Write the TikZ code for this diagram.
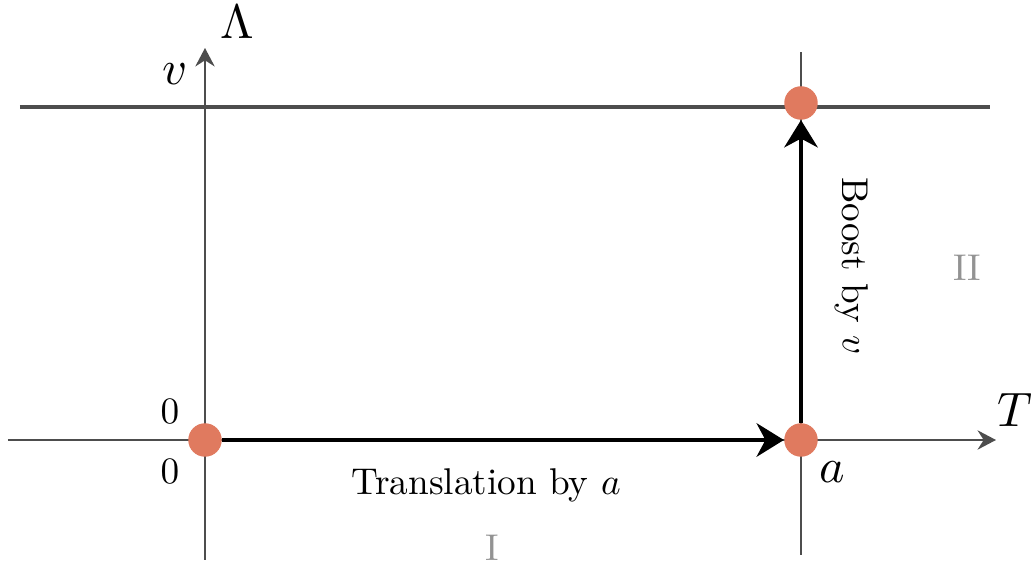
\documentclass[tikz,border=0pt]{standalone}
\usepackage{amsmath, amssymb}
\usepackage{xcolor}
\usepackage{tikz}
\usetikzlibrary{arrows.meta}

\definecolor{dotred}{HTML}{E07A5F}
\definecolor{axisgray}{HTML}{4D4D4D}

\begin{document}
\begin{tikzpicture}[x=0.02cm, y=0.02cm,
    axis/.style={draw=axisgray, line width=1.2pt, -{Stealth[length=10.5pt, width=11pt, inset=3.5pt]}},
    gridline/.style={draw=axisgray, line width=1.8pt},
    move/.style={draw=black, line width=2.8pt, -{Stealth[length=15.5pt, width=19pt, inset=5pt]}},
    point/.style={circle, fill=dotred, inner sep=0pt, minimum size=0.67cm},
    lab/.style={scale=2.12},
    biglab/.style={scale=2.75},
    region/.style={text=gray!85, scale=2.12}]
  \useasboundingbox (-205,-128) rectangle (831,440);

  % axes
  \coordinate (Tstart) at (-197,0);
  \coordinate (Tend) at (791,0);
  \coordinate (Lstart) at (0,-120);
  \coordinate (Lend) at (0,392);
  \draw[axis] (Tstart) -- (Tend);
  \draw[axis] (Lstart) -- (Lend);
  \node[biglab] (Tlab) at (810,30) {$T$};
  \node[biglab] (Llab) at (32,418) {$\Lambda$};

  % lines at a and v
  \coordinate (vleft) at (-185,333);
  \coordinate (vright) at (785,333);
  \coordinate (abot) at (596,-115);
  \coordinate (atop) at (596,388);
  \draw[gridline] (vleft) -- (vright);
  \draw[axisgray, line width=1.5pt] (abot) -- (atop);

  % points
  \node[point] (O) at (0,0) {};
  \node[point] (A) at (596,0) {};
  \node[point] (V) at (596,337) {};

  % moves
  \draw[move] (O) -- (A);
  \draw[move] (A) -- (V);

  % labels
  \node[lab] (zeroup) at (-35,28) {$0$};
  \node[lab] (zerodown) at (-35,-32) {$0$};
  \node[biglab] (alab) at (627,-32) {$a$};
  \node[biglab] (vlab) at (-30,366) {$v$};
  \node[lab] (trans) at (281,-45) {Translation by $a$};
  \node[lab, rotate=-90] (boost) at (647,174) {Boost by $v$};
  \node[region] (one) at (287,-108) {I};
  \node[region] (two) at (762,172) {II};
\end{tikzpicture}
\end{document}
